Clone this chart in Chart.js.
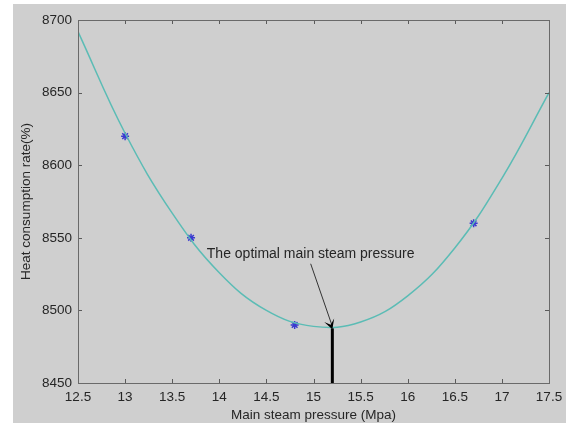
<!DOCTYPE html>
<html>
<head>
<meta charset="utf-8">
<script src="https://cdn.jsdelivr.net/npm/chart.js@4/dist/chart.umd.min.js"></script>
<style>
  html, body { margin: 0; padding: 0; background: #fff; }
  #wrap { position: absolute; left: 13px; top: 4px; width: 553px; height: 419px; background: #cfcfcf; }
</style>
</head>
<body>
<div id="wrap"><canvas id="myChart" width="553" height="419"></canvas></div>
<script>
// fitted curve
var curveP = [12.5, 13, 13.5, 14, 14.5, 15, 15.5, 16, 16.5, 17, 17.5];
var curveV = [8692, 8622, 8567, 8526, 8500, 8489, 8492, 8510, 8543, 8591, 8650];

// measured points (blue stars)
var measP = [13, 13.7, 14.8, 16.7];
var measV = [8620, 8550, 8490, 8560];

// optimum marker
var optimalP = 15.2;
var optimalV = 8489;
var noteText = 'The optimal main steam pressure';
var noteP = 14.97;
var noteV = 8539;

var xTitle = 'Main steam pressure (Mpa)';
var yTitle = 'Heat consumption rate(%)';

var textColor = '#262626';
var fontFam = '"Liberation Sans", Arial, sans-serif';

var boxPlugin = {
    id: 'box',
    afterDatasetsDraw: function(chart) {
        var c = chart.ctx, a = chart.chartArea;
        var xs = chart.scales.x, ys = chart.scales.y;
        c.save();
        // inward ticks on all four sides
        c.strokeStyle = '#5a5a5a';
        c.lineWidth = 1;
        c.beginPath();
        xs.ticks.forEach(function(t) {
            var px = Math.round(xs.getPixelForValue(t.value)) + 0.5;
            c.moveTo(px, a.bottom); c.lineTo(px, a.bottom - 4);
            c.moveTo(px, a.top); c.lineTo(px, a.top + 4);
        });
        ys.ticks.forEach(function(t) {
            var py = Math.round(ys.getPixelForValue(t.value)) + 0.5;
            c.moveTo(a.left, py); c.lineTo(a.left + 4, py);
            c.moveTo(a.right, py); c.lineTo(a.right - 4, py);
        });
        c.stroke();
        c.strokeStyle = '#6a6a6a';
        c.strokeRect(a.left + 0.5, a.top + 0.5, a.right - a.left, a.bottom - a.top);

        // vertical line at the optimum
        var ox = xs.getPixelForValue(optimalP);
        var oy = ys.getPixelForValue(optimalV);
        c.strokeStyle = '#000';
        c.lineWidth = 3;
        c.beginPath();
        c.moveTo(ox, a.bottom);
        c.lineTo(ox, oy + 2);
        c.stroke();

        // arrow from note to optimum
        var sx = xs.getPixelForValue(noteP);
        var sy = ys.getPixelForValue(noteV) + 10;
        c.strokeStyle = '#333';
        c.lineWidth = 1;
        c.beginPath();
        c.moveTo(sx, sy);
        c.lineTo(ox, oy);
        c.stroke();
        var ang = Math.atan2(oy - sy, ox - sx);
        c.fillStyle = '#000';
        c.beginPath();
        c.moveTo(ox, oy + 3);
        c.lineTo(ox - 11 * Math.cos(ang - 0.5), oy + 3 - 11 * Math.sin(ang - 0.5));
        c.lineTo(ox - 5 * Math.cos(ang), oy + 3 - 5 * Math.sin(ang));
        c.lineTo(ox - 11 * Math.cos(ang + 0.5), oy + 3 - 11 * Math.sin(ang + 0.5));
        c.closePath();
        c.fill();

        // note text
        c.fillStyle = textColor;
        c.font = '14px ' + fontFam;
        c.textAlign = 'center';
        c.textBaseline = 'middle';
        c.fillText(noteText, xs.getPixelForValue(noteP), ys.getPixelForValue(noteV));
        c.restore();
    }
};

var ctx = document.getElementById('myChart').getContext('2d');
var chart = new Chart(ctx, {
    type: 'scatter',
    data: {
        datasets: [{
            label: 'fit',
            data: curveP.map(function(p, i) { return {x: p, y: curveV[i]}; }),
            showLine: true,
            borderColor: '#5bbcb5',
            borderWidth: 1.5,
            pointRadius: 0,
            tension: 0.4
        }, {
            label: 'measured',
            data: measP.map(function(p, i) { return {x: p, y: measV[i]}; }),
            pointStyle: 'star',
            pointRadius: 4,
            borderColor: '#3a3ad0',
            backgroundColor: '#3a3ad0',
            borderWidth: 1.5
        }]
    },
    options: {
        responsive: false,
        animation: false,
        layout: { padding: { top: 16, right: 17, left: 0, bottom: 0 } },
        plugins: { legend: { display: false }, tooltip: { enabled: false } },
        scales: {
            x: {
                type: 'linear', min: 12.5, max: 17.5,
                ticks: { stepSize: 0.5, color: textColor, font: { size: 13.5, family: fontFam }, padding: 6,
                    callback: function(v) { return String(v); } },
                grid: { display: true, drawOnChartArea: false, drawTicks: false, tickLength: 0 },
                border: { display: false },
                title: { display: true, text: xTitle, color: textColor, font: { size: 13.5, family: fontFam }, padding: { top: 0, bottom: 0 } },
                afterFit: function(s) { s.height = 40; s.paddingLeft = 0; s.paddingRight = 0; }
            },
            y: {
                min: 8450, max: 8700,
                ticks: { stepSize: 50, color: textColor, font: { size: 13.5, family: fontFam }, padding: 6,
                    callback: function(v) { return String(v); } },
                grid: { display: true, drawOnChartArea: false, drawTicks: false, tickLength: 0 },
                border: { display: false },
                title: { display: true, text: yTitle, color: textColor, font: { size: 13.5, family: fontFam }, padding: { top: 5, bottom: 0 } },
                afterFit: function(s) { s.width = 65; s.paddingTop = 0; s.paddingBottom = 0; }
            }
        }
    },
    plugins: [boxPlugin]
});
</script>
</body>
</html>
